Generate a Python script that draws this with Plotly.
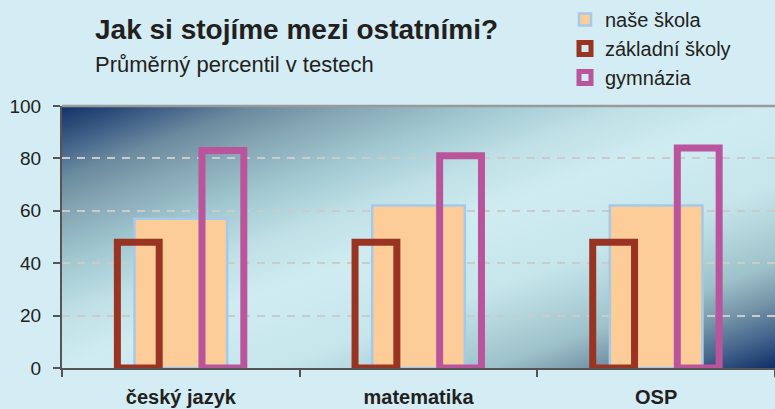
import base64
import plotly.graph_objects as go

# ---- data ----
categories = ["český jazyk", "matematika", "OSP"]
series_names = ["naše škola", "základní školy", "gymnázia"]
nase_skola = [57, 62, 62]
zakladni_skoly = [48, 48, 48]
gymnazia = [83, 81, 84]
y_ticks = [0, 20, 40, 60, 80, 100]

title_text = "Jak si stojíme mezi ostatními?"
subtitle_text = "Průměrný percentil v testech"

FONT = "Liberation Sans, Arial, sans-serif"
TEXT = "#231F20"
PAPER = "#D4ECF3"

# ---- gradient background for plot area (decoration) ----
stops = [
    (0.00, "#12336A"),
    (0.04, "#2A4A76"),
    (0.08, "#44648A"),
    (0.135, "#6A8A9E"),
    (0.20, "#84A4B2"),
    (0.30, "#A0C8D0"),
    (0.40, "#BFE0E6"),
    (0.50, "#CFECF1"),
    (0.65, "#C6E6EC"),
    (0.80, "#9EC2CA"),
    (0.87, "#7595A8"),
    (0.94, "#40608A"),
    (1.00, "#0E2E66"),
]
stop_xml = "".join(f'<stop offset="{o}" stop-color="{c}"/>' for o, c in stops)
svg = (
    '<svg xmlns="http://www.w3.org/2000/svg" width="713" height="262" '
    'viewBox="0 0 713 262" preserveAspectRatio="none">'
    '<defs><linearGradient id="g" x1="0" y1="0" x2="1" y2="1">'
    + stop_xml +
    '</linearGradient></defs><rect x="0" y="0" width="713" height="262" fill="url(#g)"/></svg>'
)
svg_uri = "data:image/svg+xml;base64," + base64.b64encode(svg.encode()).decode()

fig = go.Figure()

fig.add_trace(go.Bar(
    x=categories, y=nase_skola, name=series_names[0],
    width=0.39, offset=-0.195,
    marker=dict(color="rgb(252,204,153)", line=dict(color="#A6C9EA", width=2.5)),
))
fig.add_trace(go.Bar(
    x=categories, y=zakladni_skoly, name=series_names[1],
    width=0.176, offset=-0.267,
    marker=dict(color="rgba(0,0,0,0)", line=dict(color="rgb(153,51,34)", width=7)),
))
fig.add_trace(go.Bar(
    x=categories, y=gymnazia, name=series_names[2],
    width=0.176, offset=0.089,
    marker=dict(color="rgba(0,0,0,0)", line=dict(color="rgb(186,84,156)", width=7)),
))

fig.update_layout(
    width=775, height=409,
    margin=dict(l=62, r=0, t=106, b=41, autoexpand=False),
    paper_bgcolor=PAPER,
    plot_bgcolor="rgba(0,0,0,0)",
    barmode="overlay",
    font=dict(family=FONT, color=TEXT, size=19),
    showlegend=True,
    legend=dict(
        xref="container", yref="container",
        x=565 / 775, y=1.0, xanchor="left", yanchor="top",
        bgcolor="rgba(0,0,0,0)", font=dict(size=20, color=TEXT),
        traceorder="normal",
    ),
    xaxis=dict(
        type="category", range=[-0.5, 2.5],
        showline=True, linecolor="#555555", linewidth=2,
        ticks="outside", tickson="boundaries", ticklen=7, tickwidth=1.5, tickcolor="#555555",
        showgrid=False,
        tickfont=dict(size=20, family=FONT, color=TEXT, weight="bold"),
        ticklabelstandoff=10,
    ),
    yaxis=dict(
        range=[0, 100], tickvals=y_ticks,
        showline=True, linecolor="#555555", linewidth=2,
        ticks="outside", ticklen=7, tickwidth=1.5, tickcolor="#555555",
        showgrid=True, gridcolor="#C9CBCC", gridwidth=1.5, griddash="8px,7px",
        zeroline=False,
        tickfont=dict(size=19, family=FONT, color=TEXT),
        ticklabelstandoff=8,
    ),
    images=[dict(
        source=svg_uri, xref="paper", yref="paper", x=0, y=1,
        sizex=1, sizey=1, xanchor="left", yanchor="top",
        sizing="stretch", layer="below",
    )],
    shapes=[dict(
        type="line", xref="paper", yref="paper", x0=0, x1=1, y0=1, y1=1,
        line=dict(color="#9A9A9A", width=2.5), layer="above",
    )],
    annotations=[
        dict(text=title_text, xref="paper", yref="paper",
             x=(93 - 62) / 713, y=(368 - 29) / 262, xanchor="left", yanchor="middle",
             showarrow=False, font=dict(size=28, family=FONT, color=TEXT, weight="bold")),
        dict(text=subtitle_text, xref="paper", yref="paper",
             x=(93 - 62) / 713, y=(368 - 64) / 262, xanchor="left", yanchor="middle",
             showarrow=False, font=dict(size=22, family=FONT, color=TEXT)),
    ],
)

fig.write_html(
    "out.html",
    config={"displayModeBar": False},
    post_script="document.body.style.margin='0';document.body.style.overflow='hidden';",
)
